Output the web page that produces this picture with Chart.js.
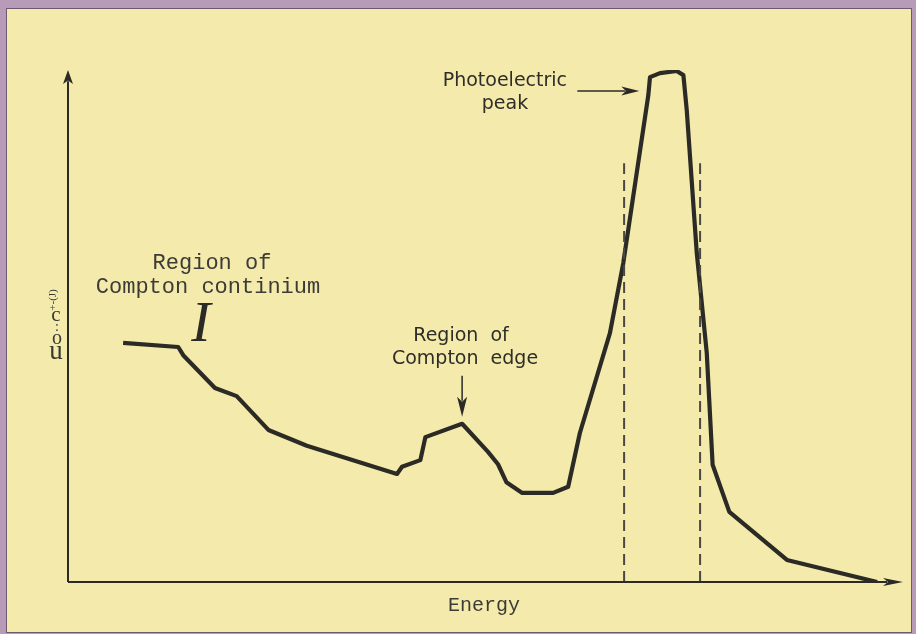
<!DOCTYPE html>
<html>
<head>
<meta charset="utf-8">
<script src="https://cdn.jsdelivr.net/npm/chart.js@4/dist/chart.umd.min.js"></script>
<style>
  html, body { margin: 0; padding: 0; background: #b89bb8; }
  #wrap { position: relative; width: 916px; height: 634px; }
</style>
</head>
<body>
<div id="wrap"><canvas id="spectrum" width="916" height="634"></canvas></div>
<script>
// Gamma-ray pulse height spectrum: counts against energy (arbitrary units, 0-100)
const energy = [6.6, 13.2, 13.8, 17.6, 20.2, 24.0, 28.6, 39.4, 40.0, 42.2, 42.8, 47.2, 50.3, 51.5, 52.5, 54.4, 58.1, 59.9, 61.3, 64.9, 66.5, 69.5, 69.7, 70.9, 72.9, 73.7, 74.1, 75.3, 76.5, 77.2, 79.2, 86.1, 96.9];
const counts = [46.7, 45.9, 44.3, 37.9, 36.3, 29.7, 26.6, 21.1, 22.5, 23.8, 28.3, 30.9, 25.4, 23.0, 19.5, 17.4, 17.4, 18.6, 29.1, 48.6, 62.3, 95.1, 98.6, 99.4, 99.8, 99.0, 92.2, 64.3, 44.7, 22.9, 13.7, 4.3, 0];

// dashed window either side of the photopeak
const windowEdges = [66.6, 75.7];
const windowTop = 81.8;

const comptonEdgeIndex = 11;   // local maximum that the "Compton edge" arrow points at
const peakLabelLevel = 95.1;   // height where the photopeak arrow meets the rising edge

const ink = '#2c2a24';

function arrow(ctx, x1, y1, x2, y2, len, half) {
    const a = Math.atan2(y2 - y1, x2 - x1);
    ctx.beginPath();
    ctx.moveTo(x1, y1);
    ctx.lineTo(x2 - Math.cos(a) * len * 0.8, y2 - Math.sin(a) * len * 0.8);
    ctx.stroke();
    ctx.beginPath();
    ctx.moveTo(x2, y2);
    ctx.lineTo(x2 - Math.cos(a) * len - Math.sin(a) * half, y2 - Math.sin(a) * len + Math.cos(a) * half);
    ctx.lineTo(x2 - Math.cos(a) * len * 0.75, y2 - Math.sin(a) * len * 0.75);
    ctx.lineTo(x2 - Math.cos(a) * len + Math.sin(a) * half, y2 - Math.sin(a) * len - Math.cos(a) * half);
    ctx.closePath();
    ctx.fill();
}

// paper and purple mount behind the plot
const paper = {
    id: 'paper',
    beforeDraw(chart) {
        const ctx = chart.ctx;
        ctx.save();
        ctx.fillStyle = '#b89bb8';
        ctx.fillRect(0, 0, chart.width, chart.height);
        ctx.fillStyle = '#f3eaac';
        ctx.fillRect(7, 9, 904, 623);
        ctx.strokeStyle = '#6e5a6e';
        ctx.lineWidth = 1;
        ctx.strokeRect(6.5, 8.5, 905, 624);
        ctx.restore();
    }
};

// hand-drawn axes with arrow heads, labels and callouts
const sketch = {
    id: 'sketch',
    afterDatasetsDraw(chart) {
        const ctx = chart.ctx;
        const area = chart.chartArea;
        const xs = chart.scales.x, ys = chart.scales.y;
        ctx.save();
        ctx.strokeStyle = ink;
        ctx.fillStyle = ink;
        ctx.lineWidth = 2;
        ctx.lineCap = 'butt';

        // axes
        arrow(ctx, area.left, area.bottom, area.left, area.top, 14, 5);
        arrow(ctx, area.left, area.bottom, area.right, area.bottom, 20, 4);

        // Compton edge callout
        const ex = xs.getPixelForValue(energy[comptonEdgeIndex]);
        const ey = ys.getPixelForValue(counts[comptonEdgeIndex]);
        ctx.lineWidth = 1.5;
        arrow(ctx, ex, ey - 48, ex, ey - 7, 20, 5);

        // photoelectric peak callout
        const py = ys.getPixelForValue(peakLabelLevel) - 4;
        const px = xs.getPixelForValue(energy[21]) - 9;
        arrow(ctx, px - 62, py, px, py, 18, 4.5);

        ctx.fillStyle = '#2e2d28';
        ctx.font = '19px "DejaVu Sans"';
        ctx.textAlign = 'right';
        ctx.textBaseline = 'alphabetic';
        ctx.fillText('Photoelectric', 567, 86);
        ctx.textAlign = 'center';
        ctx.fillText('peak', 505, 109);
        ctx.fillText('Region  of', 461, 341);
        ctx.fillText('Compton  edge', 465, 364);

        ctx.fillStyle = '#3c3b36';
        ctx.font = '22px "Liberation Mono"';
        ctx.fillText('Region of', 212, 269);
        ctx.fillText('Compton continium', 208, 293);

        ctx.font = '20px "Liberation Mono"';
        ctx.fillText('Energy', 484, 611);

        ctx.fillStyle = ink;
        ctx.font = 'italic 58px "Liberation Serif"';
        ctx.fillText('I', 201, 341);

        // vertical axis caption, one glyph above another
        ctx.fillStyle = '#3a3934';
        ctx.font = '21px "Liberation Serif"';
        ctx.fillText('c', 56, 321);
        ctx.font = '14px "Liberation Serif"';
        ctx.fillText(':', 57, 331);
        ctx.font = '20px "Liberation Serif"';
        ctx.fillText('o', 57, 344);
        ctx.font = '27px "Liberation Serif"';
        ctx.fillText('u', 56, 359);
        ctx.save();
        ctx.translate(52, 300);
        ctx.rotate(-Math.PI / 2);
        ctx.font = '11px "Liberation Serif"';
        ctx.fillText('+-(J)', 0, 4);
        ctx.restore();

        ctx.restore();
    }
};

const windowSet = (x) => ({
    data: [{ x: x, y: 0 }, { x: x, y: windowTop }],
    borderColor: '#4a4840',
    borderWidth: 2,
    borderDash: [11, 6],
    pointRadius: 0,
    showLine: true,
    fill: false
});

new Chart(document.getElementById('spectrum'), {
    type: 'scatter',
    data: {
        datasets: [
            windowSet(windowEdges[0]),
            windowSet(windowEdges[1]),
            {
                data: energy.map((e, i) => ({ x: e, y: counts[i] })),
                borderColor: ink,
                borderWidth: 4.2,
                borderJoinStyle: 'round',
                pointRadius: 0,
                showLine: true,
                tension: 0,
                fill: false
            }
        ]
    },
    options: {
        responsive: false,
        animation: false,
        devicePixelRatio: 1,
        layout: { padding: { left: 68, right: 13, top: 70, bottom: 52 } },
        plugins: {
            legend: { display: false },
            tooltip: { enabled: false }
        },
        elements: { line: { clip: false } },
        scales: {
            x: { type: 'linear', min: 0, max: 100, display: false },
            y: { type: 'linear', min: 0, max: 100, display: false }
        }
    },
    plugins: [paper, sketch]
});
</script>
</body>
</html>
